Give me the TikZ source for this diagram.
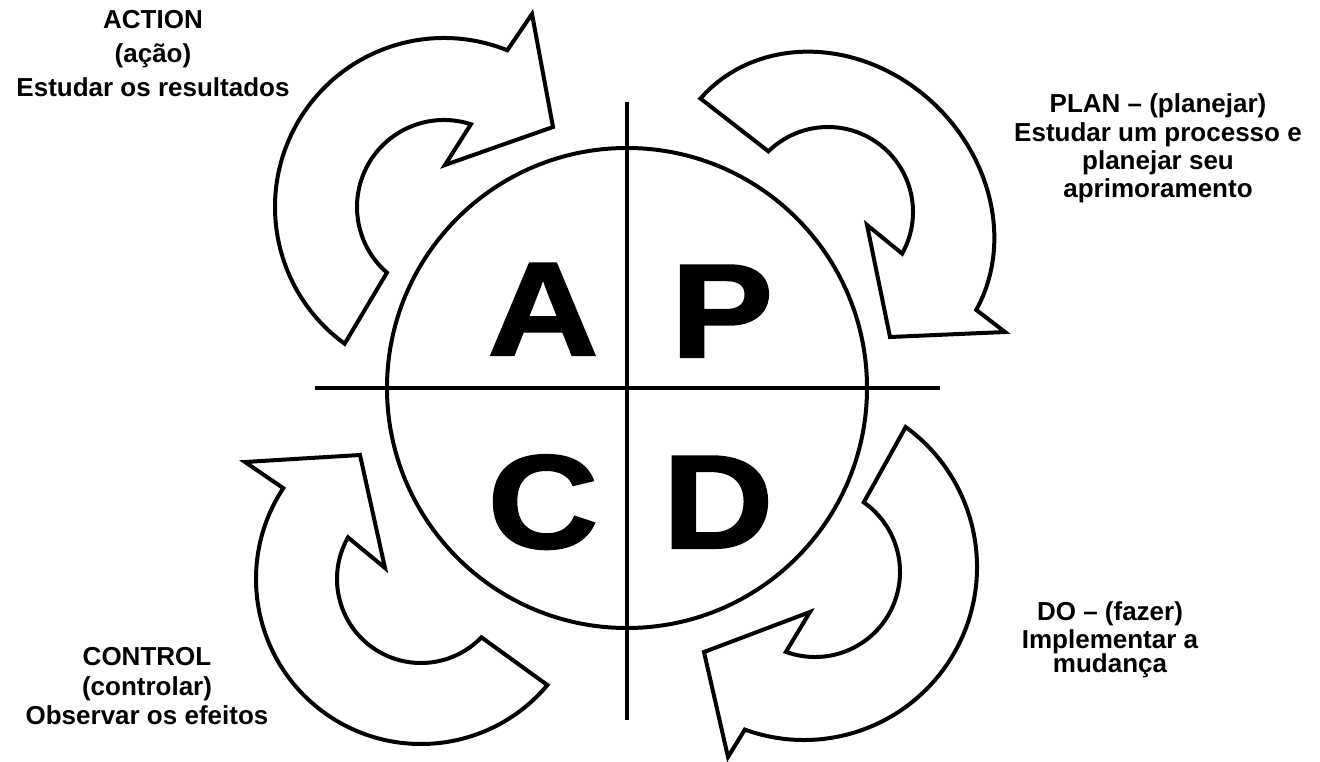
\documentclass[tikz,border=0pt]{standalone}
\usepackage{fontspec}
\setmainfont{Liberation Sans}
\newfontfamily\heavyfont{Liberation Sans}[UprightFont={* Bold},FakeBold=1.5]
\usetikzlibrary{calc}
\begin{document}
\begin{tikzpicture}[x=0.75pt,y=-0.75pt,
  shapeline/.style={draw=black,line width=3pt,line join=miter,fill=white},
  crossline/.style={draw=black,line width=3pt},
  biglet/.style={font=\heavyfont\fontsize{100}{100}\selectfont,inner sep=0pt,anchor=base},
  lbl/.style={font=\bfseries\fontsize{19.5}{22}\selectfont,inner sep=0pt,anchor=base}]
\useasboundingbox[fill=white] (0,0) rectangle (1320,762);

% circle and cross
\coordinate (cc) at (627,388);
\draw[crossline] (cc) circle[radius=240];
\coordinate (vt) at (627,102);
\coordinate (vb) at (627,720);
\coordinate (hl) at (315,388);
\coordinate (hr) at (940,388);
\draw[crossline] (vt) -- (vb);
\draw[crossline] (hl) -- (hr);

% centres of the curved arrows
\coordinate (cA) at (444,207);
\coordinate (cPi) at (828,212);
\coordinate (cDo) at (804,567);
\coordinate (cDi) at (815,572);
\coordinate (cC) at (421,579);

% ACTION arrow (top left)
\draw[shapeline] ($(cA)+(126:169)$) arc[start angle=126,end angle=292,radius=169]
  -- (532,14) -- (553,127) -- (445,165)
  -- ($(cA)+(288:87)$) arc[start angle=288,end angle=131,radius=87] -- cycle;

% PLAN arrow (top right): outer edge is a tilted ellipse
\draw[shapeline] plot[domain=176.8:346,samples=60,variable=\t]
    ({830+0.7071*(175*cos(\t)-153*sin(\t))},{216+0.7071*(175*cos(\t)+153*sin(\t))})
  -- (1005,332) -- (890,337) -- (867,225)
  -- ($(cPi)+(29.3:85)$) arc[start angle=29.3,end angle=-134.5,radius=85] -- cycle;

% DO arrow (bottom right)
\draw[shapeline] ($(cDo)+(-54:173)$) arc[start angle=-54,end angle=110,radius=173]
  -- (728,757) -- (704,652) -- (810,612)
  -- ($(cDi)+(110:85)$) arc[start angle=110,end angle=-55,radius=85] -- cycle;

% CONTROL arrow (bottom left)
\draw[shapeline] (245,462) -- (360,455) -- (385,568)
  -- ($(cC)+(209.7:84)$) arc[start angle=209.7,end angle=44,radius=84]
  -- ($(cC)+(40:165)$) arc[start angle=40,end angle=213.4,radius=165] -- cycle;

% big letters
\node[biglet] (la) at (543,355) {\scalebox{1.15}[1]{A}};
\node[biglet] (lp) at (722,357) {\scalebox{1.15}[1]{P}};
\node[biglet] (lc) at (543,548) {\scalebox{1.15}[1]{C}};
\node[biglet] (ld) at (718,548) {\scalebox{1.15}[1]{D}};

% labels
\node[lbl] (a1) at (153,29) {ACTION};
\node[lbl] (a2) at (153,63) {(ação)};
\node[lbl] (a3) at (153,97) {Estudar os resultados};

\node[lbl] (p1) at (1158,113) {PLAN – (planejar)};
\node[lbl] (p2) at (1158,142) {Estudar um processo e};
\node[lbl] (p3) at (1158,170) {planejar seu};
\node[lbl] (p4) at (1158,198) {aprimoramento};

\node[lbl] (c1) at (147,665) {CONTROL};
\node[lbl] (c2) at (147,695) {(controlar)};
\node[lbl] (c3) at (147,724) {Observar os efeitos};

\node[lbl] (d1) at (1110,620) {DO – (fazer)};
\node[lbl] (d2) at (1110,648) {Implementar a};
\node[lbl] (d3) at (1110,672) {mudança};
\end{tikzpicture}
\end{document}
